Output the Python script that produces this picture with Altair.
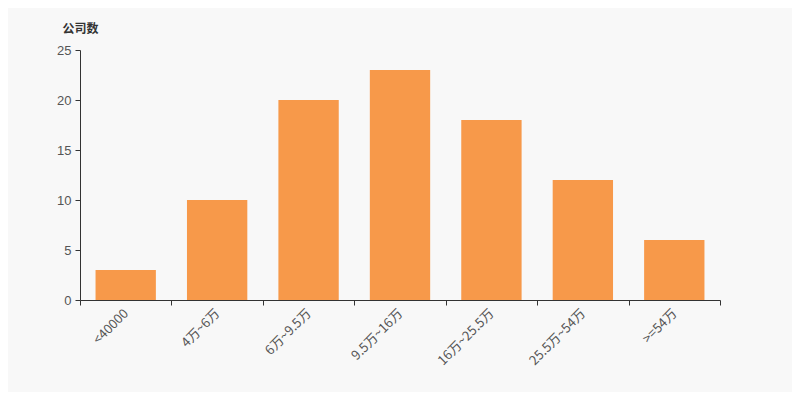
import altair as alt
import pandas as pd

categories = ["<40000", "4万~6万", "6万~9.5万", "9.5万~16万", "16万~25.5万", "25.5万~54万", ">=54万"]
counts = [3, 10, 20, 23, 18, 12, 6]

df = pd.DataFrame({"cat": categories, "count": counts})

chart = alt.Chart(df).mark_bar(color="#f7994a", width=alt.RelativeBandSize(0.66)).encode(
    x=alt.X("cat:N", sort=categories,
            scale=alt.Scale(paddingInner=0, paddingOuter=0),
            axis=alt.Axis(title=None, labelAngle=-45, labelAlign="right", labelBaseline="middle",
                          tickBand="extent", labelPadding=6, labelFontSize=13,
                          labelColor="#555", domainColor="#333", tickColor="#333",
                          tickSize=5, labelFont="Noto Sans CJK SC")),
    y=alt.Y("count:Q", scale=alt.Scale(domain=[0, 25]),
            axis=alt.Axis(title="公司数", titleAngle=0, titleX=0, titleY=-22,
                          titleAlign="center", titleBaseline="middle",
                          titleFontSize=12, titleFontWeight="bold", titleColor="#333",
                          titleFont="Noto Sans CJK SC",
                          values=[0, 5, 10, 15, 20, 25], grid=False,
                          labelFontSize=13, labelColor="#555", domainColor="#333",
                          tickColor="#333", tickSize=5, labelPadding=4,
                          labelFont="Liberation Sans")),
).properties(
    width=640, height=250,
    autosize=alt.AutoSizeParams(type="none"),
    padding={"left": 72, "top": 42, "right": 72, "bottom": 92},
).configure(background="#f8f8f8").configure_view(stroke=None)

chart.save("out.html", embed_options={"renderer": "svg", "actions": False})
